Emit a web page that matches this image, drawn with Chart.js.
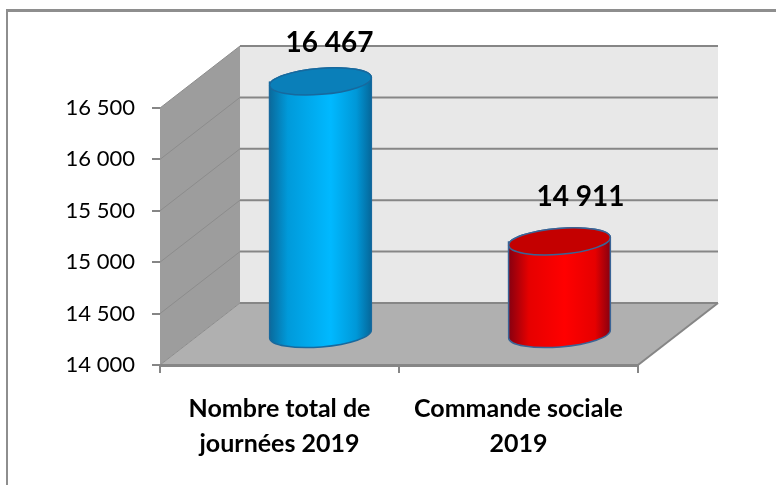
<!DOCTYPE html>
<html>
<head>
<meta charset="utf-8">
<style>
  html, body { margin: 0; background: #fff; overflow: hidden; }
  #wrap { position: relative; width: 776px; height: 485px; }
  #frame { position: absolute; left: 6px; top: 9px; right: 0; bottom: 0; border-left: 2px solid #8e8e8e; border-top: 3px solid #8e8e8e; }
  canvas { position: absolute; left: 0; top: 0; }
</style>
<script src="https://cdn.jsdelivr.net/npm/chart.js@4"></script>
</head>
<body>
<div id="wrap">
  <div id="frame"></div>
  <canvas id="chart" width="776" height="485"></canvas>
</div>
<script>
const categories = [["Nombre total de", "journées 2019"], ["Commande sociale", "2019"]];
const values = [16467, 14911];
const yTicks = [14000, 14500, 15000, 15500, 16000, 16500];

const FONT = "Lato, 'Open Sans', sans-serif";
const depthX = 80, depthY = -62;     // back wall offset
const barX = 41, barY = -30;         // bars stand half way into the floor
const barWidth = 102, radiusY = 13, tilt = -0.08;
const labelShift = [9, 21];
const labelRise = [38, 44];
const bodyStops = [
  [[0, "#0a6a9c"], [0.18, "#009ada"], [0.6, "#00b9ff"], [0.85, "#0098d8"], [1, "#05679a"]],
  [[0, "#860010"], [0.2, "#e60000"], [0.55, "#ff0000"], [0.85, "#e60000"], [1, "#860010"]]
];
const topColors = ["#0a7fb9", "#c40000"];
const edgeColors = ["#17699e", "#3a6496"];

function fmt(v) {
  return String(v).replace(/(\d)(\d{3})$/, "$1 $2");
}

function bodyGradient(ctx, x, i) {
  // scales have no pixels yet on the very first pass
  if (!Number.isFinite(x)) return topColors[i];
  const g = ctx.createLinearGradient(x - barWidth / 2, 0, x + barWidth / 2, 0);
  bodyStops[i].forEach(s => g.addColorStop(s[0], s[1]));
  return g;
}

function bodyPath(ctx, bar) {
  const r = barWidth / 2;
  ctx.moveTo(bar.x - r, bar.y);
  ctx.ellipse(bar.x, bar.y, r, radiusY, tilt, Math.PI, 0, false);
  ctx.ellipse(bar.x, bar.base, r, radiusY, tilt, 0, Math.PI, false);
  ctx.closePath();
}

function poly(ctx, pts, fill) {
  ctx.beginPath();
  pts.forEach((p, i) => i ? ctx.lineTo(p[0], p[1]) : ctx.moveTo(p[0], p[1]));
  ctx.closePath();
  ctx.fillStyle = fill;
  ctx.fill();
}

// walls and floor of the 3D box, built on the y scale
const box = {
  id: "box",
  beforeDraw(chart) {
    const { ctx, chartArea: a, scales } = chart;
    const l = a.left, r = a.right, t = a.top, b = a.bottom;
    ctx.save();
    poly(ctx, [[l + depthX, t + depthY], [r + depthX, t + depthY], [r + depthX, b + depthY], [l + depthX, b + depthY]], "#e8e8e8");
    poly(ctx, [[l, t], [l + depthX, t + depthY], [l + depthX, b + depthY], [l, b]], "#9d9d9d");
    poly(ctx, [[l, b], [l + depthX, b + depthY], [r + depthX, b + depthY], [r, b]], "#b0b0b0");

    yTicks.forEach(v => {
      const y = scales.y.getPixelForValue(v);
      ctx.beginPath();
      ctx.moveTo(l, y);
      ctx.lineTo(l + depthX, y + depthY);
      ctx.strokeStyle = "#8c8c8c";
      ctx.lineWidth = 1;
      ctx.stroke();
      ctx.beginPath();
      ctx.moveTo(l + depthX, y + depthY);
      ctx.lineTo(r + depthX, y + depthY);
      ctx.strokeStyle = "#868686";
      ctx.lineWidth = 2;
      ctx.stroke();
    });
    ctx.beginPath();
    ctx.moveTo(r, b);
    ctx.lineTo(r + depthX, b + depthY);
    ctx.strokeStyle = "#868686";
    ctx.lineWidth = 2;
    ctx.stroke();
    ctx.restore();
  }
};

// turns the plain bars into cylinders, pushed back onto the floor
const cylinders = {
  id: "cylinders",
  beforeDatasetDraw(chart, args) {
    const ctx = chart.ctx;
    const bars = args.meta.data;
    ctx.save();
    ctx.translate(barX, barY);
    bars.forEach((bar, i) => {
      ctx.beginPath();
      bodyPath(ctx, bar);
      ctx.fillStyle = bodyGradient(ctx, bar.x, i);
      ctx.fill();
    });
    ctx.beginPath();
    bars.forEach(bar => bodyPath(ctx, bar));
    ctx.clip();
  },
  afterDatasetDraw(chart, args) {
    const ctx = chart.ctx;
    const r = barWidth / 2;
    ctx.restore();
    ctx.save();
    ctx.translate(barX, barY);
    args.meta.data.forEach((bar, i) => {
      ctx.beginPath();
      bodyPath(ctx, bar);
      ctx.strokeStyle = edgeColors[i];
      ctx.lineWidth = 1.5;
      ctx.stroke();
      ctx.beginPath();
      ctx.ellipse(bar.x, bar.y, r, radiusY, tilt, 0, Math.PI * 2);
      ctx.fillStyle = topColors[i];
      ctx.fill();
      ctx.stroke();
    });
    ctx.restore();
    ctx.save();
    ctx.font = "bold 28px " + FONT;
    ctx.fillStyle = "#000";
    ctx.textAlign = "center";
    ctx.textBaseline = "middle";
    args.meta.data.forEach((bar, i) => {
      ctx.fillText(fmt(values[i]), bar.x + barX + labelShift[i], bar.y + barY - labelRise[i]);
    });
    ctx.restore();
  }
};

new Chart(document.getElementById("chart"), {
  type: "bar",
  data: {
    labels: categories,
    datasets: [{
      data: values,
      base: yTicks[0],
      barThickness: barWidth,
      borderWidth: 0,
      backgroundColor: c => bodyGradient(c.chart.ctx, c.chart.scales.x.getPixelForValue(c.dataIndex), c.dataIndex)
    }]
  },
  options: {
    responsive: false,
    animation: false,
    layout: { padding: { top: 108, right: 138, left: 0, bottom: 0 } },
    plugins: { legend: { display: false }, tooltip: { enabled: false } },
    scales: {
      x: {
        afterFit(s) { s.height = 120; },
        grid: { drawOnChartArea: false, color: "#868686", lineWidth: 2, tickLength: 8 },
        border: { color: "#868686", width: 3 },
        ticks: { color: "#000", maxRotation: 0, padding: 18, font: { family: FONT, size: 25, weight: "bold", lineHeight: 1.42 } }
      },
      y: {
        min: 14000,
        max: 16500,
        afterFit(s) { s.width = 160; },
        afterBuildTicks(s) { s.ticks = yTicks.map(v => ({ value: v })); },
        grid: { drawOnChartArea: false, color: "#868686", lineWidth: 2, tickLength: 8 },
        border: { display: false },
        ticks: { color: "#000", padding: 17, callback: v => fmt(v), font: { family: FONT, size: 22 } }
      }
    }
  },
  plugins: [box, cylinders]
});
</script>
</body>
</html>
